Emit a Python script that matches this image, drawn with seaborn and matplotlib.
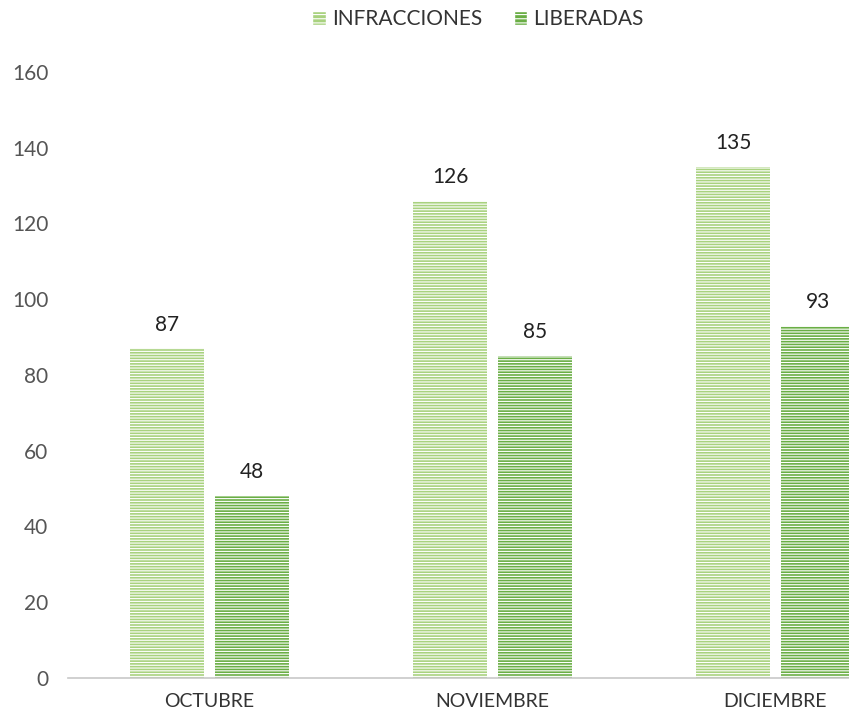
import matplotlib
matplotlib.use("Agg")
import matplotlib.pyplot as plt
import seaborn as sns
import pandas as pd

months = ["OCTUBRE", "NOVIEMBRE", "DICIEMBRE"]
series = ["INFRACCIONES", "LIBERADAS"]
infracciones = [87, 126, 135]
liberadas = [48, 85, 93]
yticks = [0, 20, 40, 60, 80, 100, 120, 140, 160]

df = pd.DataFrame({
    "mes": months * 2,
    "serie": [series[0]] * 3 + [series[1]] * 3,
    "valor": infracciones + liberadas,
})

sns.set_theme(style="white")
plt.rcParams["font.family"] = ["Lato", "DejaVu Sans"]
plt.rcParams["hatch.linewidth"] = 0.8
plt.rcParams["hatch.color"] = "white"

palette = {"INFRACCIONES": "#a9d27f", "LIBERADAS": "#6aae45"}

fig = plt.figure(figsize=(8.49, 7.28), dpi=100)
ax = fig.add_axes([0.08, 0.069, 0.92, 0.832])
sns.barplot(data=df, x="mes", y="valor", hue="serie", palette=palette,
            width=0.6, gap=0.12, ax=ax, saturation=1, legend=True)

for cont in ax.containers:
    for p in cont:
        p.set_hatch("------")
        p.set_edgecolor("white")
        p.set_linewidth(0)
    ax.bar_label(cont, padding=10, fontsize=15, color="#222222")

ax.set_xlim(-0.5, 2.26)
ax.set_ylim(0, 160)
ax.set_yticks(yticks)
ax.set_xlabel("")
ax.set_ylabel("")
for s in ["top", "right", "left"]:
    ax.spines[s].set_visible(False)
ax.spines["bottom"].set_color("#c8c8c8")
ax.spines["bottom"].set_linewidth(1.2)
ax.tick_params(axis="y", labelsize=15, labelcolor="#555555", length=0, pad=14)
ax.tick_params(axis="x", labelsize=14, labelcolor="#333333", length=0, pad=11)

leg = ax.legend(loc="upper center", bbox_to_anchor=(0.525, 1.135), ncol=2,
                frameon=False, fontsize=15, handlelength=0.65, handleheight=0.65,
                handletextpad=0.3, columnspacing=1.5, labelcolor="#333333")
for h in leg.legend_handles:
    h.set_hatch("----")
    h.set_edgecolor("white")

fig.savefig("out.png", dpi=100)
